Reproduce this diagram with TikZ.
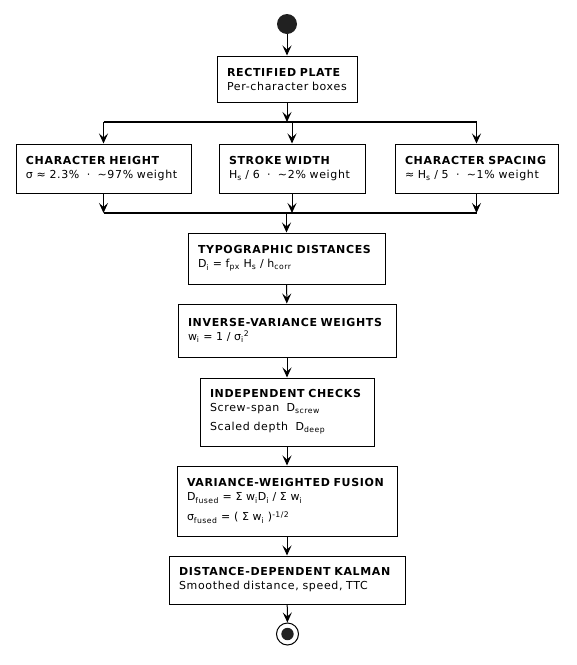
\documentclass[tikz,border=0pt]{standalone}
\usepackage{fontspec}
\setmainfont{DejaVu Sans}[LetterSpace=6]
\usepackage{tikz}
\usetikzlibrary{arrows.meta}
\usetikzlibrary{calc}
\tikzset{
  act/.style={draw,line width=1pt,inner xsep=10pt,inner ysep=0pt,align=left,
    font=\fontsize{11}{14}\selectfont},
  arr/.style={line width=1pt,-{Stealth[length=10pt,width=9pt,inset=4pt]}},
  bar/.style={line width=1.8pt}
}

\begin{document}
\begin{tikzpicture}[x=1pt,y=-1pt]
            \useasboundingbox (0,0) rectangle (577,665);
            % start and stop
            \node[circle,fill=black!87,minimum size=20pt,inner sep=0pt] (start) at (287,24) {};
            \node[circle,draw,line width=1pt,minimum size=22pt,inner sep=0pt] (stop) at (287.5,634) {};
            \fill[black!87] (stop) circle (6.2);
            % activities
            \node[act,text width=120pt,minimum height=46pt] (plate) at (287,79)
                {\textbf{RECTIFIED PLATE}\\Per-character boxes};
            \node[act,text width=155pt,minimum height=49pt] (height) at (103.5,168.5)
                {\textbf{CHARACTER HEIGHT}\\σ ≈ 2.3\% \ · \ \textasciitilde97\% weight};
            \node[act,text width=126pt,minimum height=49pt] (stroke) at (292,168.5)
                {\textbf{STROKE WIDTH}\\H\textsubscript{s} / 6 \ · \ \textasciitilde2\% weight};
            \node[act,text width=143pt,minimum height=49pt] (spacing) at (476.5,168.5)
                {\textbf{CHARACTER SPACING}\\≈ H\textsubscript{s} / 5 \ · \ \textasciitilde1\% weight};
            \node[act,text width=177pt,minimum height=51pt] (typo) at (286.5,258.5)
                {\textbf{TYPOGRAPHIC DISTANCES}\\D\textsubscript{i} = f\textsubscript{px} H\textsubscript{s} / h\textsubscript{corr}};
            \node[act,text width=198pt,minimum height=53pt] (weights) at (287,330.5)
                {\textbf{INVERSE-VARIANCE WEIGHTS}\\w\textsubscript{i} = 1 / σ\textsubscript{i}\textsuperscript{2}};
            \node[act,text width=154pt,minimum height=68pt] (checks) at (287,412)
                {\textbf{INDEPENDENT CHECKS}\\Screw-span \ D\textsubscript{screw}\\[5pt]Scaled depth \ D\textsubscript{deep}};
            \node[act,text width=200pt,minimum height=70pt] (fusion) at (287,501)
                {\textbf{VARIANCE-WEIGHTED FUSION}\\D\textsubscript{fused} = Σ w\textsubscript{i}D\textsubscript{i} / Σ w\textsubscript{i}\\[6pt]σ\textsubscript{fused} = ( Σ w\textsubscript{i} )\textsuperscript{-1/2}};
            \node[act,text width=216pt,minimum height=48pt] (kalman) at (287,580)
                {\textbf{DISTANCE-DEPENDENT KALMAN}\\Smoothed distance, speed, TTC};
            % fork and join bars
            \coordinate (forkL) at (103.5,122);
            \coordinate (forkR) at (476.5,122);
            \coordinate (joinL) at (103.5,213);
            \coordinate (joinR) at (476.5,213);
            \draw[bar] (forkL) -- (forkR);
            \draw[bar] (joinL) -- (joinR);
            % flow
            \draw[arr] (start) -- (plate);
            \draw[arr] (plate) -- (plate |- forkL);
            \draw[arr] (height |- forkL) -- (height);
            \draw[arr] (stroke |- forkL) -- (stroke);
            \draw[arr] (spacing |- forkL) -- (spacing);
            \draw[arr] (height) -- (height |- joinL);
            \draw[arr] (stroke) -- (stroke |- joinL);
            \draw[arr] (spacing) -- (spacing |- joinL);
            \draw[arr] (typo |- joinL) -- (typo);
            \draw[arr] (typo) -- (weights);
            \draw[arr] (weights) -- (checks);
            \draw[arr] (checks) -- (fusion);
            \draw[arr] (fusion) -- (kalman);
            \draw[arr] (kalman) -- (stop);
        \end{tikzpicture}
\end{document}
